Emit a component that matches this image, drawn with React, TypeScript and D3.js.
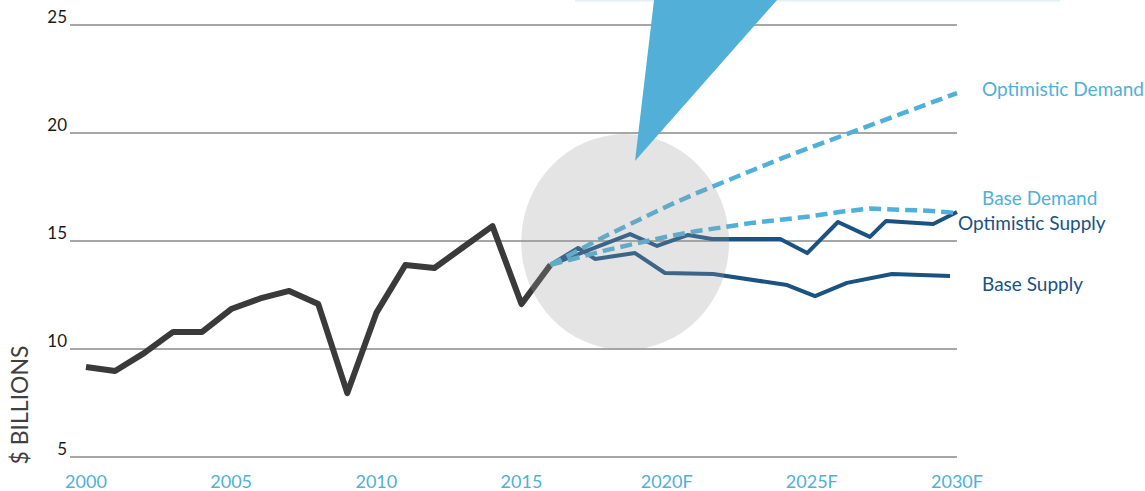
import React from "react";
import * as d3 from "d3";

// ---------- data ----------
const histYears = [2000, 2001, 2002, 2003, 2004, 2005, 2006, 2007, 2008, 2009, 2010, 2011, 2012, 2013, 2014, 2015, 2016];
const histValues = [9.17, 8.98, 9.81, 10.79, 10.79, 11.85, 12.34, 12.69, 12.08, 7.96, 11.67, 13.89, 13.75, 14.72, 15.69, 12.08, 13.9];

const optSupplyYears = [2016, 2018.74, 2019.67, 2020.74, 2021.56, 2023.91, 2024.84, 2025.9, 2027.0, 2027.56, 2029.18, 2030];
const optSupplyValues = [13.9, 15.32, 14.77, 15.28, 15.09, 15.09, 14.44, 15.88, 15.19, 15.93, 15.79, 16.34];

const baseSupplyYears = [2016, 2016.95, 2017.53, 2018.91, 2019.94, 2021.6, 2024.15, 2025.11, 2026.21, 2027.76, 2029.76];
const baseSupplyValues = [13.9, 14.68, 14.17, 14.44, 13.52, 13.47, 12.96, 12.45, 13.06, 13.47, 13.38];

const demandYears = [2016, 2017, 2018, 2019, 2020, 2021, 2022, 2023, 2024, 2025, 2026, 2027, 2028, 2029, 2030];
const optDemandValues = [13.9, 14.6, 15.3, 15.95, 16.6, 17.2, 17.75, 18.3, 18.85, 19.35, 19.85, 20.35, 20.85, 21.35, 21.85];
const baseDemandValues = [13.9, 14.25, 14.6, 14.9, 15.2, 15.45, 15.65, 15.85, 16.0, 16.15, 16.35, 16.5, 16.45, 16.4, 16.3];

const yTicks = [5, 10, 15, 20, 25];
const xTickYears = [2000, 2005, 2010, 2015, 2020, 2025, 2030];
const xTickLabels = ["2000", "2005", "2010", "2015", "2020F", "2025F", "2030F"];

// highlight annotation (data units)
const highlightCenter = { year: 2018.57, value: 14.95 };
const highlightRadius = { years: 3.58, value: 5.0 };
const calloutTip = { year: 2018.91, value: 18.7 };

// ---------- styles ----------
const FONT = "Lato, 'Open Sans', sans-serif";
const LIGHT_BLUE = "#4fb0d9";
const DARK_BLUE = "#1a5282";
const HIST = "#3a3a3a";

export default function App() {
  const W = 1145, H = 491;
  const x = d3.scaleLinear().domain([2000, 2030]).range([86, 957]);
  const y = d3.scaleLinear().domain([5, 25]).range([457, 25]);
  const gridX0 = 70, gridX1 = 957;

  const line = d3.line<[number, number]>().x(d => x(d[0])).y(d => y(d[1]));
  const zip = (a: number[], b: number[]) => a.map((v, i) => [v, b[i]] as [number, number]);

  const hist = line(zip(histYears, histValues))!;
  const optS = line(zip(optSupplyYears, optSupplyValues))!;
  const baseS = line(zip(baseSupplyYears, baseSupplyValues))!;
  const optD = line(zip(demandYears, optDemandValues))!;
  const baseD = line(zip(demandYears, baseDemandValues))!;

  const cx = x(highlightCenter.year), cy = y(highlightCenter.value);
  const rx = x(2000 + highlightRadius.years) - x(2000);
  const ry = y(5) - y(5 + highlightRadius.value);

  const tipX = x(calloutTip.year), tipY = y(calloutTip.value);
  const topY = -2;
  const leftTop = tipX + (654 - 635) * (tipY - topY) / 161;
  const rightTop = tipX + (777 - 635) * (tipY - topY) / 161;

  return (
    <div style={{ position: "fixed", left: 0, top: 0 }}>
      <svg width={W} height={H} style={{ display: "block", background: "#fff" }}>
        {/* grid */}
        {yTicks.map(t => (
          <g key={t}>
            <line x1={gridX0} x2={gridX1} y1={y(t)} y2={y(t)} stroke="#8a8a8a" strokeWidth={1.3} />
            <text x={67} y={y(t) - 2} textAnchor="end" fontFamily={FONT} fontSize={17} fill="#1a1a1a">{t}</text>
          </g>
        ))}
        {/* x labels */}
        {xTickYears.map((yr, i) => (
          <text key={yr} x={x(yr)} y={488} textAnchor="middle" fontFamily={FONT} fontSize={18} fill={LIGHT_BLUE}>
            {xTickLabels[i]}
          </text>
        ))}
        {/* y axis title */}
        <text transform={`translate(28,405) rotate(-90)`} textAnchor="middle" fontFamily={FONT} fontSize={23} fill="#404040">
          $ BILLIONS
        </text>

        {/* series */}
        <path d={hist} fill="none" stroke={HIST} strokeWidth={6} strokeLinejoin="round" />
        <path d={baseS} fill="none" stroke={DARK_BLUE} strokeWidth={4} strokeLinejoin="round" />
        <path d={optS} fill="none" stroke={DARK_BLUE} strokeWidth={4} strokeLinejoin="round" />
        <path d={baseD} fill="none" stroke={LIGHT_BLUE} strokeWidth={4.5} strokeDasharray="12 6" />
        <path d={optD} fill="none" stroke={LIGHT_BLUE} strokeWidth={4.5} strokeDasharray="12 6" />

        {/* highlight circle (semi-transparent overlay) */}
        <ellipse cx={cx} cy={cy} rx={rx} ry={ry} fill="#9d9d9d" fillOpacity={0.27} />

        {/* callout */}
        <rect x={575} y={-20} width={485} height={21.5} fill="#e2f0f8" />
        <polygon points={`${leftTop},${topY} ${rightTop},${topY} ${tipX},${tipY}`} fill="#52b0d8" />

        {/* series labels */}
        <text x={982} y={96} fontFamily={FONT} fontSize={19} fill={LIGHT_BLUE}>Optimistic Demand</text>
        <text x={982} y={205} fontFamily={FONT} fontSize={19} fill={LIGHT_BLUE}>Base Demand</text>
        <text x={958} y={230} fontFamily={FONT} fontSize={19} fill={DARK_BLUE}>Optimistic Supply</text>
        <text x={982} y={291} fontFamily={FONT} fontSize={19} fill={DARK_BLUE}>Base Supply</text>
      </svg>
    </div>
  );
}
